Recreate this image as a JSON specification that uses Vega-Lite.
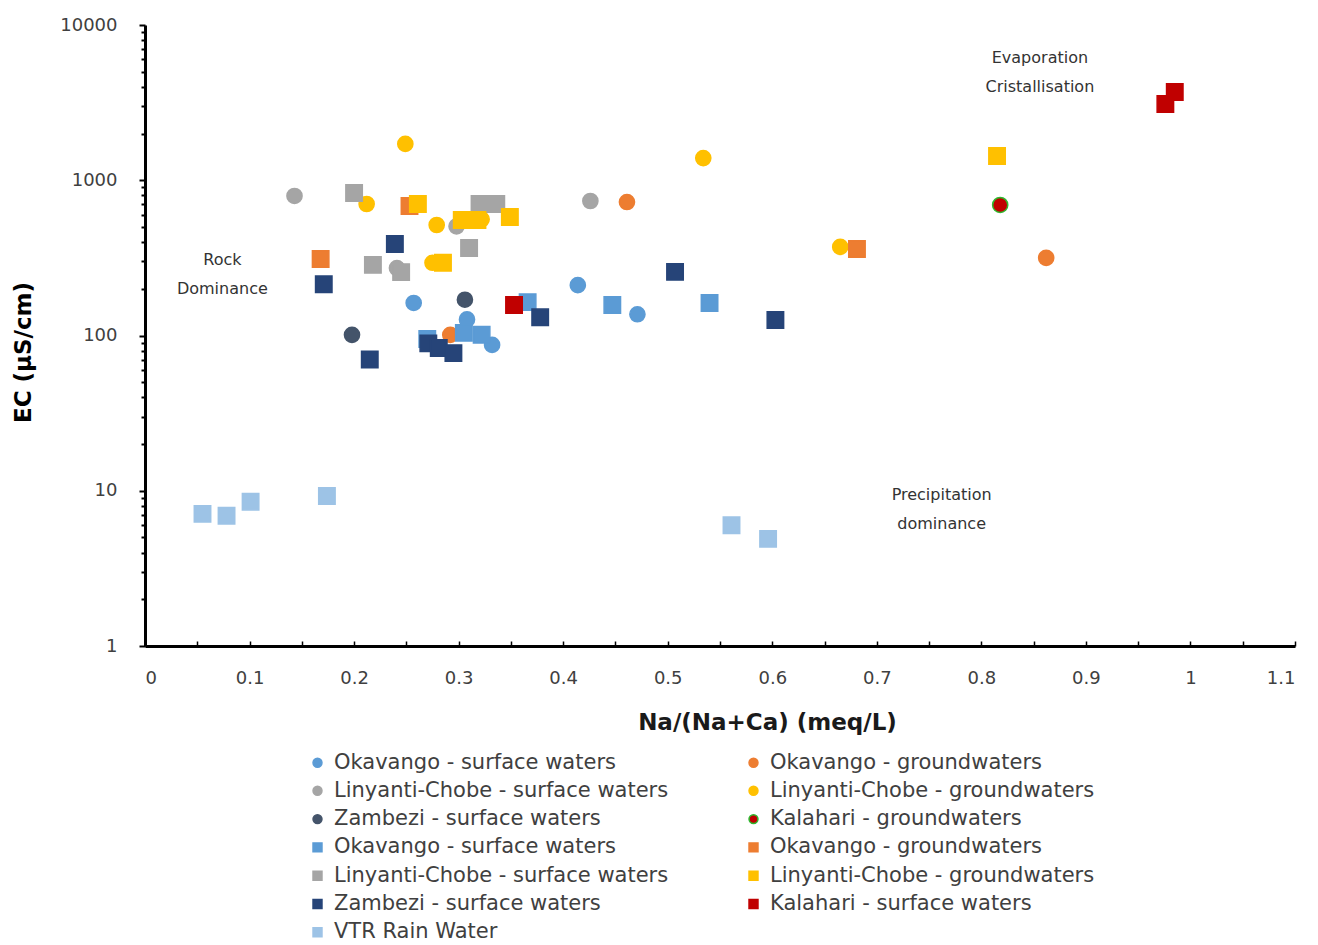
{
  "$schema": "https://vega.github.io/schema/vega-lite/v6.json",
  "autosize": {"type": "none"},
  "width": 1150,
  "height": 621,
  "padding": {"left": 145, "top": 25, "right": 23, "bottom": 299},
  "background": "white",
  "config": {
    "view": {"stroke": null},
    "font": "DejaVu Sans",
    "axis": {"grid": false}
  },
  "datasets": {
    "pts": [
      {"s": "Okavango - surface waters|c", "x": 0.257, "ec": 162},
      {"s": "Okavango - surface waters|c", "x": 0.414, "ec": 211},
      {"s": "Okavango - surface waters|c", "x": 0.471, "ec": 137},
      {"s": "Okavango - surface waters|c", "x": 0.308, "ec": 127},
      {"s": "Okavango - surface waters|c", "x": 0.332, "ec": 87},
      {"s": "Okavango - groundwaters|c", "x": 0.461, "ec": 724},
      {"s": "Okavango - groundwaters|c", "x": 0.862, "ec": 316},
      {"s": "Okavango - groundwaters|c", "x": 0.292, "ec": 101},
      {"s": "Linyanti-Chobe - surface waters|c", "x": 0.143, "ec": 792},
      {"s": "Linyanti-Chobe - surface waters|c", "x": 0.426, "ec": 735},
      {"s": "Linyanti-Chobe - surface waters|c", "x": 0.298, "ec": 505},
      {"s": "Linyanti-Chobe - surface waters|c", "x": 0.241, "ec": 272},
      {"s": "Linyanti-Chobe - groundwaters|c", "x": 0.249, "ec": 1713},
      {"s": "Linyanti-Chobe - groundwaters|c", "x": 0.212, "ec": 703},
      {"s": "Linyanti-Chobe - groundwaters|c", "x": 0.279, "ec": 515},
      {"s": "Linyanti-Chobe - groundwaters|c", "x": 0.534, "ec": 1390},
      {"s": "Linyanti-Chobe - groundwaters|c", "x": 0.665, "ec": 372},
      {"s": "Linyanti-Chobe - groundwaters|c", "x": 0.322, "ec": 560},
      {"s": "Linyanti-Chobe - groundwaters|c", "x": 0.275, "ec": 294},
      {"s": "Zambezi - surface waters|c", "x": 0.198, "ec": 101},
      {"s": "Zambezi - surface waters|c", "x": 0.306, "ec": 170},
      {"s": "Kalahari - groundwaters|c", "x": 0.818, "ec": 693},
      {"s": "Okavango - groundwaters|s", "x": 0.168, "ec": 311},
      {"s": "Okavango - groundwaters|s", "x": 0.253, "ec": 683},
      {"s": "Okavango - groundwaters|s", "x": 0.681, "ec": 361},
      {"s": "Linyanti-Chobe - surface waters|s", "x": 0.200, "ec": 828},
      {"s": "Linyanti-Chobe - surface waters|s", "x": 0.218, "ec": 285},
      {"s": "Linyanti-Chobe - surface waters|s", "x": 0.245, "ec": 256},
      {"s": "Linyanti-Chobe - surface waters|s", "x": 0.310, "ec": 366},
      {"s": "Linyanti-Chobe - surface waters|s", "x": 0.320, "ec": 703},
      {"s": "Linyanti-Chobe - surface waters|s", "x": 0.336, "ec": 703},
      {"s": "Linyanti-Chobe - groundwaters|s", "x": 0.261, "ec": 703},
      {"s": "Linyanti-Chobe - groundwaters|s", "x": 0.303, "ec": 555},
      {"s": "Linyanti-Chobe - groundwaters|s", "x": 0.318, "ec": 555},
      {"s": "Linyanti-Chobe - groundwaters|s", "x": 0.349, "ec": 580},
      {"s": "Linyanti-Chobe - groundwaters|s", "x": 0.285, "ec": 294},
      {"s": "Linyanti-Chobe - groundwaters|s", "x": 0.815, "ec": 1433},
      {"s": "Okavango - surface waters|s", "x": 0.366, "ec": 164},
      {"s": "Okavango - surface waters|s", "x": 0.447, "ec": 157},
      {"s": "Okavango - surface waters|s", "x": 0.540, "ec": 162},
      {"s": "Okavango - surface waters|s", "x": 0.270, "ec": 95},
      {"s": "Okavango - surface waters|s", "x": 0.305, "ec": 104},
      {"s": "Okavango - surface waters|s", "x": 0.322, "ec": 101},
      {"s": "Zambezi - surface waters|s", "x": 0.239, "ec": 388},
      {"s": "Zambezi - surface waters|s", "x": 0.171, "ec": 214},
      {"s": "Zambezi - surface waters|s", "x": 0.215, "ec": 70},
      {"s": "Zambezi - surface waters|s", "x": 0.271, "ec": 89},
      {"s": "Zambezi - surface waters|s", "x": 0.281, "ec": 83},
      {"s": "Zambezi - surface waters|s", "x": 0.295, "ec": 77},
      {"s": "Zambezi - surface waters|s", "x": 0.378, "ec": 131},
      {"s": "Zambezi - surface waters|s", "x": 0.507, "ec": 257},
      {"s": "Zambezi - surface waters|s", "x": 0.603, "ec": 126},
      {"s": "Kalahari - surface waters|s", "x": 0.353, "ec": 157},
      {"s": "Kalahari - surface waters|s", "x": 0.976, "ec": 3100},
      {"s": "Kalahari - surface waters|s", "x": 0.985, "ec": 3700},
      {"s": "VTR Rain Water|s", "x": 0.055, "ec": 7.1},
      {"s": "VTR Rain Water|s", "x": 0.078, "ec": 6.9},
      {"s": "VTR Rain Water|s", "x": 0.101, "ec": 8.5},
      {"s": "VTR Rain Water|s", "x": 0.174, "ec": 9.25},
      {"s": "VTR Rain Water|s", "x": 0.561, "ec": 6.0},
      {"s": "VTR Rain Water|s", "x": 0.596, "ec": 4.9}
    ],
    "notes": [
      {"x": 0.074, "ec": 306, "t": "Rock\nDominance"},
      {"x": 0.856, "ec": 6125, "t": "Evaporation\nCristallisation"},
      {"x": 0.762, "ec": 9.4, "t": "Precipitation\ndominance"}
    ]
  },
  "layer": [
    {
      "data": {"name": "pts"},
      "mark": {"type": "point", "filled": true, "opacity": 1, "strokeWidth": 1.5},
      "encoding": {
        "x": {
          "field": "x", "type": "quantitative",
          "scale": {"domain": [0, 1.1], "nice": false, "zero": false},
          "axis": {
            "values": [0, 0.05, 0.1, 0.15, 0.2, 0.25, 0.3, 0.35, 0.4, 0.45, 0.5, 0.55, 0.6, 0.65, 0.7, 0.75, 0.8, 0.85, 0.9, 0.95, 1, 1.05, 1.1],
            "labelExpr": "abs(datum.value*10 - round(datum.value*10)) < 0.01 ? format(datum.value, '~g') : ''",
            "title": "Na/(Na+Ca) (meq/L)",
            "titleFontSize": 23, "titleFontWeight": "bold", "titleColor": "#1a1a1a", "titlePadding": 24,
            "titleX": 622,
            "labelFontSize": 18, "labelColor": "#404040", "labelPadding": 28,
            "domainColor": "#000000", "domainWidth": 3,
            "tickColor": "#000000", "tickWidth": 1.5, "tickSize": -5
          }
        },
        "y": {
          "field": "ec", "type": "quantitative",
          "scale": {"type": "log", "domain": [1, 10000], "nice": false},
          "axis": {
            "values": [1, 2, 3, 4, 5, 6, 7, 8, 9, 10, 20, 30, 40, 50, 60, 70, 80, 90, 100, 200, 300, 400, 500, 600, 700, 800, 900, 1000, 2000, 3000, 4000, 5000, 6000, 7000, 8000, 9000, 10000],
            "labelExpr": "abs(log(datum.value)/LN10 - round(log(datum.value)/LN10)) < 0.001 ? format(datum.value, 'd') : ''",
            "title": "EC (µS/cm)",
            "titleFontSize": 23, "titleFontWeight": "bold", "titleColor": "#000000", "titlePadding": 24,
            "titleY": 327,
            "labelFontSize": 18, "labelColor": "#404040", "labelPadding": 22,
            "domainColor": "#000000", "domainWidth": 3,
            "tickColor": "#000000", "tickWidth": 2,
            "tickSize": {"condition": {"test": "abs(log(datum.value)/LN10 - round(log(datum.value)/LN10)) < 0.001", "value": 6}, "value": 4}
          }
        },
        "color": {
          "field": "s", "type": "nominal",
          "scale": {
            "domain": [
              "Okavango - surface waters|c", "Linyanti-Chobe - surface waters|c", "Zambezi - surface waters|c",
              "Okavango - surface waters|s", "Linyanti-Chobe - surface waters|s", "Zambezi - surface waters|s",
              "VTR Rain Water|s",
              "Okavango - groundwaters|c", "Linyanti-Chobe - groundwaters|c", "Kalahari - groundwaters|c",
              "Okavango - groundwaters|s", "Linyanti-Chobe - groundwaters|s", "Kalahari - surface waters|s"
            ],
            "range": ["#5B9BD5", "#A5A5A5", "#44546A", "#5B9BD5", "#A5A5A5", "#264478", "#9DC3E6", "#ED7D31", "#FFC000", "#C00000", "#ED7D31", "#FFC000", "#C00000"]
          },
          "legend": {
            "orient": "none", "legendX": 162, "legendY": 727,
            "direction": "vertical", "columns": 2, "columnPadding": 74,
            "title": null,
            "labelExpr": "split(datum.label, '|')[0]",
            "labelFont": "DejaVu Sans",
            "labelFontSize": 21, "labelColor": "#404040", "labelLimit": 500,
            "symbolSize": 80, "symbolStrokeWidth": 1.5, "labelOffset": 6,
            "rowPadding": 6.3
          }
        },
        "shape": {
          "field": "s", "type": "nominal",
          "scale": {
            "domain": [
              "Okavango - surface waters|c", "Linyanti-Chobe - surface waters|c", "Zambezi - surface waters|c",
              "Okavango - surface waters|s", "Linyanti-Chobe - surface waters|s", "Zambezi - surface waters|s",
              "VTR Rain Water|s",
              "Okavango - groundwaters|c", "Linyanti-Chobe - groundwaters|c", "Kalahari - groundwaters|c",
              "Okavango - groundwaters|s", "Linyanti-Chobe - groundwaters|s", "Kalahari - surface waters|s"
            ],
            "range": ["circle", "circle", "circle", "square", "square", "square", "square", "circle", "circle", "circle", "square", "square", "square"]
          }
        },
        "stroke": {
          "field": "s", "type": "nominal",
          "scale": {
            "domain": [
              "Okavango - surface waters|c", "Linyanti-Chobe - surface waters|c", "Zambezi - surface waters|c",
              "Okavango - surface waters|s", "Linyanti-Chobe - surface waters|s", "Zambezi - surface waters|s",
              "VTR Rain Water|s",
              "Okavango - groundwaters|c", "Linyanti-Chobe - groundwaters|c", "Kalahari - groundwaters|c",
              "Okavango - groundwaters|s", "Linyanti-Chobe - groundwaters|s", "Kalahari - surface waters|s"
            ],
            "range": ["#5B9BD5", "#A5A5A5", "#44546A", "#5B9BD5", "#A5A5A5", "#264478", "#9DC3E6", "#ED7D31", "#FFC000", "#2EB82E", "#ED7D31", "#FFC000", "#C00000"]
          }
        },
        "size": {
          "condition": {
            "test": "datum.s == 'Okavango - surface waters|c' || datum.s == 'Okavango - groundwaters|c' || datum.s == 'Linyanti-Chobe - surface waters|c' || datum.s == 'Linyanti-Chobe - groundwaters|c' || datum.s == 'Zambezi - surface waters|c' || datum.s == 'Kalahari - groundwaters|c'",
            "value": 230
          },
          "value": 270
        }
      }
    },
    {
      "data": {"name": "notes"},
      "mark": {"type": "text", "lineBreak": "\n", "font": "DejaVu Sans", "fontSize": 16, "color": "#333333", "align": "center", "baseline": "middle", "lineHeight": 29},
      "encoding": {
        "x": {"field": "x", "type": "quantitative"},
        "y": {"field": "ec", "type": "quantitative"},
        "text": {"field": "t", "type": "nominal"}
      }
    }
  ]
}
